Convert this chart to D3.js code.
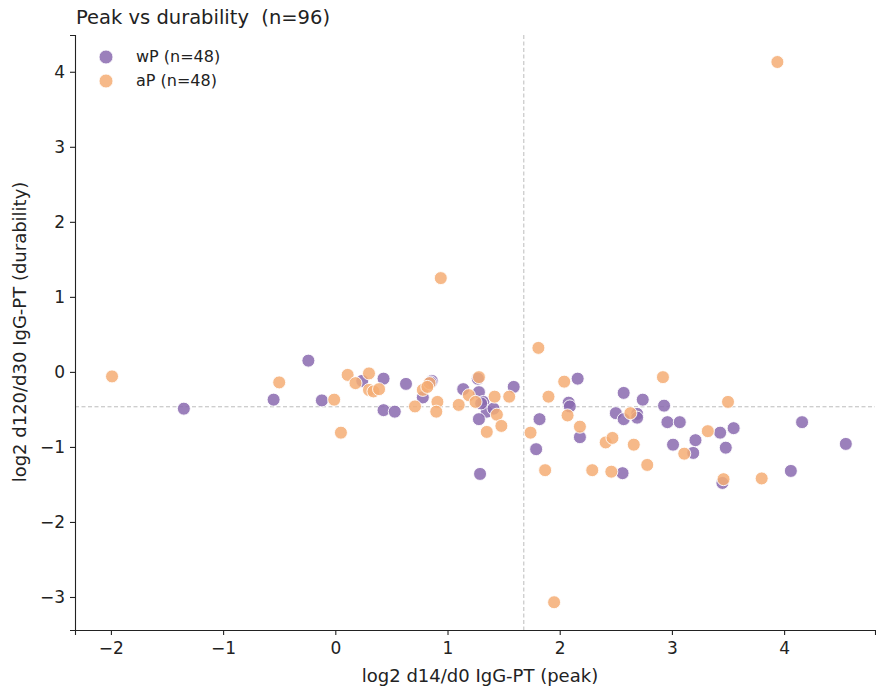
<!DOCTYPE html>
<html>
<head>
<meta charset="utf-8">
<script src="https://cdn.jsdelivr.net/npm/d3@7"></script>
<style>
  body { margin: 0; background: #fff; }
  text { font-family: "DejaVu Sans", sans-serif; fill: #222; white-space: pre; }
</style>
</head>
<body>
<div id="chart"></div>
<script>
// log2 d14/d0 (peak), log2 d120/d30 (durability)
const wP = [
  [-1.35,-0.49],[-0.55,-0.37],[-0.24,0.15],[-0.12,-0.38],[0.24,-0.12],[0.43,-0.09],
  [0.43,-0.51],[0.53,-0.53],[0.63,-0.16],[0.78,-0.34],[0.86,-0.12],[0.85,-0.14],
  [1.14,-0.23],[1.27,-0.09],[1.28,-0.27],[1.32,-0.40],[1.35,-0.53],[1.28,-0.63],
  [1.41,-0.49],[1.30,-0.42],[1.59,-0.20],[1.29,-1.36],[1.82,-0.63],[1.79,-1.03],
  [2.16,-0.09],[2.08,-0.41],[2.09,-0.46],[2.18,-0.87],[2.56,-1.35],[2.50,-0.55],
  [2.57,-0.28],[2.57,-0.63],[2.69,-0.56],[2.69,-0.61],[2.74,-0.37],[2.93,-0.45],
  [2.96,-0.67],[3.07,-0.67],[3.01,-0.97],[3.19,-1.08],[3.21,-0.91],[3.43,-0.81],
  [3.55,-0.75],[3.48,-1.01],[3.45,-1.48],[4.06,-1.32],[4.16,-0.67],[4.55,-0.96]
];
const aP = [
  [-1.99,-0.06],[-0.50,-0.14],[-0.01,-0.37],[0.05,-0.81],[0.11,-0.04],[0.18,-0.15],
  [0.30,-0.02],[0.30,-0.24],[0.34,-0.26],[0.39,-0.23],[0.71,-0.46],[0.78,-0.24],
  [0.84,-0.15],[0.82,-0.20],[0.91,-0.40],[0.90,-0.53],[0.94,1.25],[1.10,-0.44],
  [1.19,-0.31],[1.28,-0.07],[1.25,-0.40],[1.42,-0.33],[1.44,-0.57],[1.48,-0.72],
  [1.35,-0.80],[1.55,-0.33],[1.74,-0.81],[1.81,0.32],[1.87,-1.31],[1.90,-0.33],
  [2.04,-0.13],[2.07,-0.58],[2.18,-0.73],[2.29,-1.31],[2.41,-0.94],[2.47,-0.88],
  [2.46,-1.33],[2.63,-0.55],[2.66,-0.97],[2.78,-1.24],[2.92,-0.07],[3.11,-1.09],
  [3.32,-0.79],[3.50,-0.40],[3.46,-1.43],[3.80,-1.42],[3.94,4.13],[1.95,-3.07]
];
const groups = ["wP", "aP"];
const colors = ["#8a6aaf", "#f5ad74"];
const medianX = 1.68, medianY = -0.465;
const xTicks = [-2, -1, 0, 1, 2, 3, 4];
const yTicks = [-3, -2, -1, 0, 1, 2, 3, 4];

const width = 876, height = 686;
const margin = {left: 75, right: 1, top: 35, bottom: 56};

const svg = d3.select("#chart").append("svg")
  .attr("width", width).attr("height", height);

const x = d3.scaleLinear().domain([-2.32, 4.81]).range([margin.left, width - margin.right]);
const y = d3.scaleLinear().domain([-3.44, 4.49]).range([height - margin.bottom, margin.top]);

// reference lines
svg.append("line")
  .attr("x1", x(medianX)).attr("x2", x(medianX))
  .attr("y1", margin.top).attr("y2", height - margin.bottom)
  .attr("stroke", "#bdbdbd").attr("stroke-width", 1).attr("stroke-dasharray", "4,2.5");
svg.append("line")
  .attr("x1", margin.left).attr("x2", width - margin.right)
  .attr("y1", y(medianY)).attr("y2", y(medianY))
  .attr("stroke", "#bdbdbd").attr("stroke-width", 1).attr("stroke-dasharray", "4,2.5");

// points
[wP, aP].forEach((data, i) => {
  svg.append("g").selectAll("circle")
    .data(data)
    .enter()
    .append("circle")
    .attr("cx", d => x(d[0]))
    .attr("cy", d => y(d[1]))
    .attr("r", 6.5)
    .attr("fill", colors[i])
    .attr("fill-opacity", 0.85)
    .attr("stroke", "#fff")
    .attr("stroke-width", 0.9);
});

// axes
const fmt = d => d < 0 ? "\u2212" + Math.abs(d) : d;
const xAxis = svg.append("g")
  .attr("transform", `translate(0,${height - margin.bottom})`)
  .call(d3.axisBottom(x).tickValues(xTicks).tickSize(5).tickPadding(5).tickFormat(fmt));
const yAxis = svg.append("g")
  .attr("transform", `translate(${margin.left},0)`)
  .call(d3.axisLeft(y).tickValues(yTicks).tickSize(5).tickPadding(5).tickFormat(fmt));
[xAxis, yAxis].forEach(a => {
  a.selectAll("text").style("font-size", "17px").attr("fill", "#222");
  a.selectAll("line").attr("stroke", "#222").attr("stroke-width", 1.1);
  a.select(".domain").attr("stroke", "#222").attr("stroke-width", 1.1);
});
xAxis.selectAll("text").attr("dy", "0.85em");

// labels
svg.append("text")
  .attr("x", 480).attr("y", 682)
  .attr("text-anchor", "middle").style("font-size", "18px")
  .text("log2 d14/d0 IgG-PT (peak)");
svg.append("text")
  .attr("transform", `translate(26,332) rotate(-90)`)
  .attr("text-anchor", "middle").style("font-size", "18px")
  .text("log2 d120/d30 IgG-PT (durability)");
svg.append("text")
  .attr("x", 76).attr("y", 24)
  .style("font-size", "19.5px")
  .text("Peak vs durability  (n=96)");

// legend
const legend = svg.append("g");
groups.forEach((g, i) => {
  legend.append("circle")
    .attr("cx", 106).attr("cy", 57 + i * 24).attr("r", 7)
    .attr("fill", colors[i]).attr("fill-opacity", 0.85)
    .attr("stroke", "#fff").attr("stroke-width", 0.9);
  legend.append("text")
    .attr("x", 136).attr("y", 62 + i * 24)
    .style("font-size", "16px")
    .text(`${g} (n=${[wP, aP][i].length})`);
});
</script>
</body>
</html>
